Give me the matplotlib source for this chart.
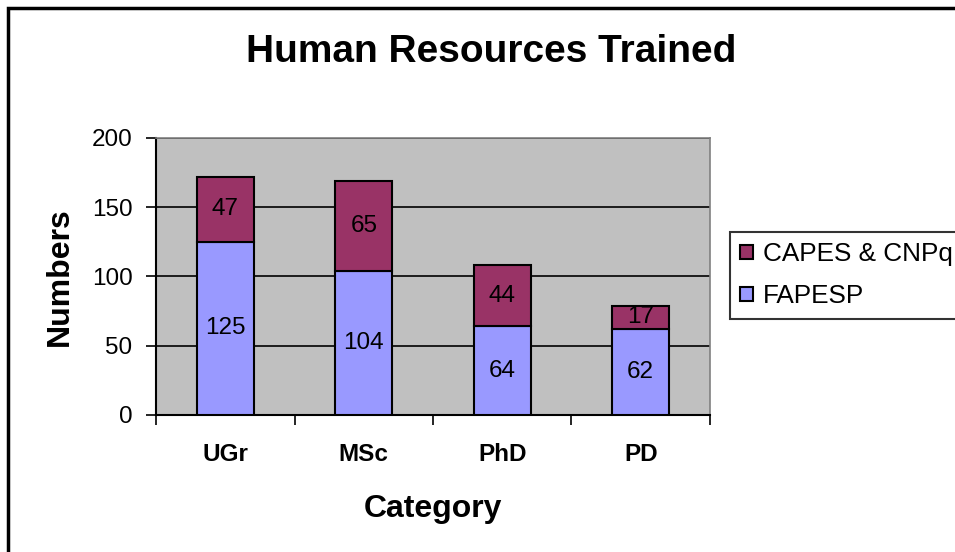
import numpy as np
import matplotlib.pyplot as plt
from matplotlib.patches import Rectangle

categories = ['UGr', 'MSc', 'PhD', 'PD']
fapesp = [125, 104, 64, 62]
capes_cnpq = [47, 65, 44, 17]

plt.rcParams['font.family'] = ['Liberation Sans', 'DejaVu Sans']

fig = plt.figure(figsize=(9.55, 5.52), dpi=100)
ax = fig.add_axes([0.1634, 0.2482, 0.580, 0.502])
ax.set_facecolor('#C0C0C0')

x = np.arange(len(categories))
b1 = ax.bar(x, fapesp, width=0.41, color='#9999FF', edgecolor='black', linewidth=1.5,
            label='FAPESP', zorder=3)
b2 = ax.bar(x, capes_cnpq, width=0.41, bottom=fapesp, color='#993366', edgecolor='black',
            linewidth=1.5, label='CAPES & CNPq', zorder=3)
ax.bar_label(b1, label_type='center', fontsize=17.5)
ax.bar_label(b2, label_type='center', fontsize=17.5)

ax.set_xlim(-0.5, 3.5)
ax.set_ylim(0, 200)
ax.set_yticks([0, 50, 100, 150, 200])
ax.yaxis.grid(True, color='black', linewidth=1.2, zorder=1)
ax.set_axisbelow(True)
ax.tick_params(axis='y', labelsize=17.5, length=7, width=1.2, direction='out', pad=10)

ax.set_xticks(x)
ax.set_xticklabels(categories, fontsize=17.5, fontweight='bold')
ax.set_xticks(np.arange(-0.5, 4, 1), minor=True)
ax.tick_params(axis='x', which='major', length=0, pad=20)
ax.tick_params(axis='x', which='minor', length=7, width=1.2, direction='out')

for s in ['top', 'right']:
    ax.spines[s].set_color('#808080')
    ax.spines[s].set_linewidth(1.2)
for s in ['left', 'bottom']:
    ax.spines[s].set_color('black')
    ax.spines[s].set_linewidth(1.5)

ax.set_ylabel('Numbers', fontsize=23, fontweight='bold', labelpad=12)
ax.set_xlabel('Category', fontsize=23, fontweight='bold', labelpad=20)
fig.text(0.514, 0.905, 'Human Resources Trained', ha='center', va='center',
         fontsize=28, fontweight='bold')

handles = [b2, b1]
leg = ax.legend(handles, ['CAPES & CNPq', 'FAPESP'], loc='upper left',
                bbox_to_anchor=(730 / 955, 1 - 232 / 552), bbox_transform=fig.transFigure,
                fontsize=18.8, frameon=True, fancybox=False, handlelength=0.47,
                handleheight=0.47, handletextpad=0.4, borderpad=0.4, labelspacing=0.68,
                borderaxespad=0)
leg.get_frame().set_edgecolor('black')
leg.get_frame().set_linewidth(1.5)

fig.patches.append(Rectangle((8 / 955, -0.1), 1.2, 1 - 8 / 552 + 0.1,
                             transform=fig.transFigure, fill=False,
                             edgecolor='black', linewidth=2.5))

fig.savefig('out.png', dpi=100)
